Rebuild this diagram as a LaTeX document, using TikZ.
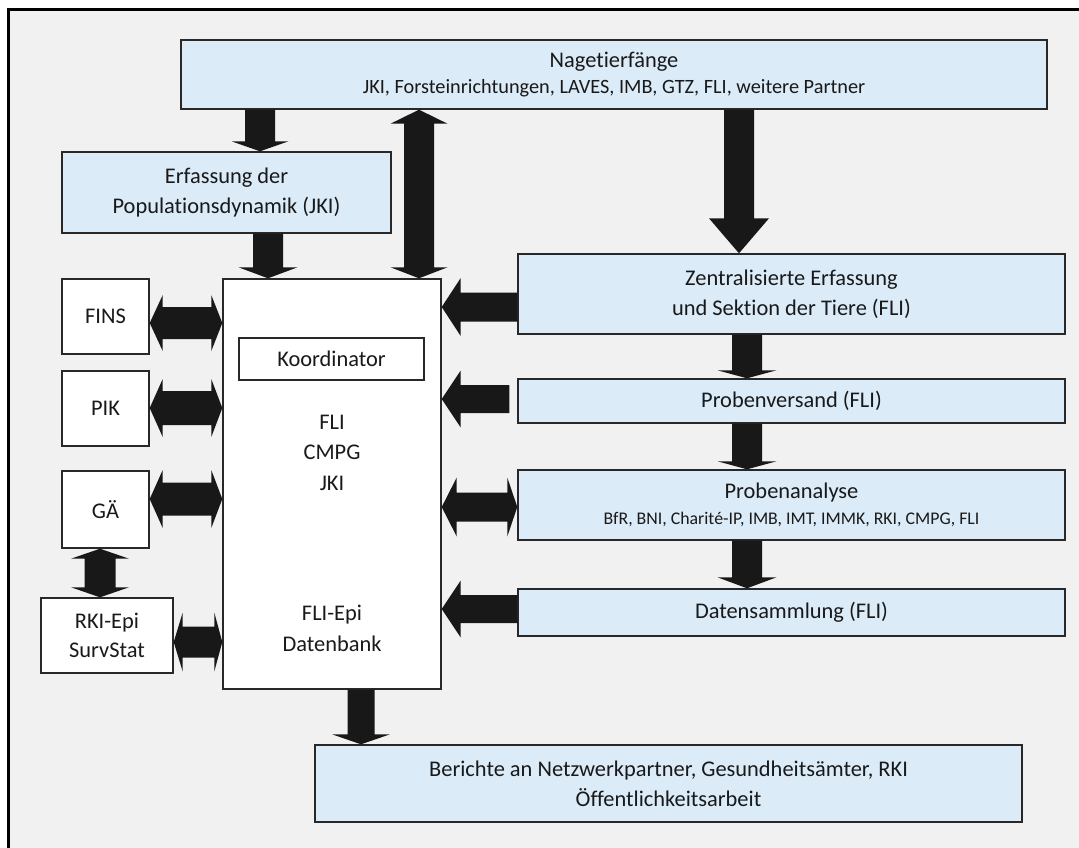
\documentclass[tikz,border=0pt]{standalone}
\usepackage{fontspec}
\setmainfont{Carlito}[Ligatures=NoCommon]
\usetikzlibrary{calc}
\definecolor{bgc}{RGB}{241,241,241}
\definecolor{boxc}{RGB}{219,235,248}
\definecolor{linec}{RGB}{40,40,40}
\definecolor{arrc}{RGB}{24,24,24}
\definecolor{txtc}{RGB}{25,25,25}
\newcommand\subfa{\fontsize{20.3}{24}\selectfont}
\newcommand\subfb{\fontsize{17.8}{24}\selectfont}
\begin{document}
\begin{tikzpicture}[x=1pt,y=-1pt,
  bluebox/.style={draw=linec, line width=1.4pt, fill=boxc, inner sep=0pt, align=center, text=txtc, font=\fontsize{22.4}{30}\selectfont},
  whitebox/.style={bluebox, fill=white},
  plain/.style={inner sep=0pt, align=center, text=txtc, font=\fontsize{22.4}{30.5}\selectfont},
  fat/.style n args={3}{arrc, to path={
    ($(\tikztotarget)!#3!(\tikztostart)$) coordinate (h)
    ($(\tikztostart)!#1!90:(\tikztotarget)$) -- ($(h)!#1!90:(\tikztotarget)$) -- ($(h)!#2!90:(\tikztotarget)$)
    -- (\tikztotarget) -- ($(h)!#2!-90:(\tikztotarget)$) -- ($(h)!#1!-90:(\tikztotarget)$)
    -- ($(\tikztostart)!#1!-90:(\tikztotarget)$) -- cycle}},
  fatdbl/.style n args={4}{arrc, to path={
    ($(\tikztostart)!#3!(\tikztotarget)$) coordinate (h1)
    ($(\tikztotarget)!#4!(\tikztostart)$) coordinate (h2)
    (\tikztostart) -- ($(h1)!#2!90:(\tikztotarget)$) -- ($(h1)!#1!90:(\tikztotarget)$)
    -- ($(h2)!#1!90:(\tikztotarget)$) -- ($(h2)!#2!90:(\tikztotarget)$) -- (\tikztotarget)
    -- ($(h2)!#2!-90:(\tikztotarget)$) -- ($(h2)!#1!-90:(\tikztotarget)$)
    -- ($(h1)!#1!-90:(\tikztotarget)$) -- ($(h1)!#2!-90:(\tikztotarget)$) -- cycle}}
]
\useasboundingbox (0,0) rectangle (1079,847);
\fill[white] (0,0) rectangle (1079,847);
\fill[bgc] (8.3,9.6) rectangle (1100,870);
\draw[black, line width=2.8pt] (8.3,9.6) rectangle (1100,870);

% boxes
\node[bluebox, minimum width=866pt, minimum height=69pt] (nag) at (614,74.5)
  {Nagetierfänge\\[-4pt]{\subfa JKI, Forsteinrichtungen, LAVES, IMB, GTZ, FLI, weitere Partner}};
\node[bluebox, minimum width=329pt, minimum height=81pt] (erf) at (226.5,192.5)
  {Erfassung der\\Populationsdynamik (JKI)};
\node[whitebox, minimum width=218pt, minimum height=410pt] (main) at (332,484) {};
\node[whitebox, minimum width=185pt, minimum height=42pt] (koord) at (331.5,359) {Koordinator};
\node[plain] (mtxt) at (332,452.5) {FLI\\CMPG\\JKI};
\node[plain] (mdb) at (332,628.5) {FLI-Epi\\Datenbank};
\node[whitebox, minimum width=87pt, minimum height=75pt] (fins) at (105.5,316.5) {FINS};
\node[whitebox, minimum width=87pt, minimum height=75pt] (pik) at (105.5,408.5) {PIK};
\node[whitebox, minimum width=87pt, minimum height=77pt] (ga) at (105.5,509.5) {GÄ};
\node[whitebox, minimum width=132pt, minimum height=75pt, font=\fontsize{22.4}{29}\selectfont] (rki) at (107,635.5) {RKI-Epi\\SurvStat};
\node[bluebox, minimum width=547pt, minimum height=80pt] (zen) at (791.5,294)
  {Zentralisierte Erfassung\\und Sektion der Tiere (FLI)};
\node[bluebox, minimum width=547pt, minimum height=44pt] (pv) at (791.5,401) {Probenversand (FLI)};
\node[bluebox, minimum width=547pt, minimum height=70pt] (pa) at (791.5,505)
  {Probenanalyse\\[-4pt]{\subfb BfR, BNI, Charité-IP, IMB, IMT, IMMK, RKI, CMPG, FLI}};
\node[bluebox, minimum width=547pt, minimum height=47pt] (ds) at (791.5,612.5) {Datensammlung (FLI)};
\node[bluebox, minimum width=707pt, minimum height=77pt] (ber) at (668.5,783.5)
  {Berichte an Netzwerkpartner, Gesundheitsämter, RKI\\Öffentlichkeitsarbeit};

% arrows
\fill[fat={15pt}{28.5pt}{10pt}] (nag.south -| 260,0) to (erf.north -| 260,0);
\fill[fat={15pt}{29.5pt}{11pt}] (erf.south -| 268,0) to (main.north -| 268,0);
\fill[fatdbl={15pt}{28.5pt}{11pt}{14pt}] (main.north -| 419,0) to (nag.south -| 419,0);
\fill[fat={15pt}{30pt}{35pt}] (nag.south -| 739,0) to (zen.north -| 739,0);
\fill[fat={14.5pt}{29pt}{19pt}] (zen.west |- 0,307) to (main.east |- 0,307);
\coordinate (pvout) at ([xshift=-8pt]pv.west |- 0,399);
\fill[fat={14pt}{28.5pt}{19pt}] (pvout) to (main.east |- pvout);
\fill[fatdbl={14.5pt}{29.5pt}{15pt}{10pt}] (main.east |- 0,507) to (pa.west |- 0,507);
\fill[fat={14pt}{28.5pt}{19pt}] (ds.west |- 0,609) to (main.east |- 0,609);
\fill[fat={15pt}{29.5pt}{8pt}] (zen.south -| 747,0) to (pv.north -| 747,0);
\fill[fat={15pt}{29.5pt}{8pt}] (pv.south -| 747,0) to (pa.north -| 747,0);
\fill[fat={15pt}{29.5pt}{11pt}] (pa.south -| 747,0) to (ds.north -| 747,0);
\fill[fatdbl={16pt}{28pt}{13pt}{11pt}] (fins.east |- 0,323) to (main.west |- 0,323);
\fill[fatdbl={17pt}{29pt}{13pt}{11pt}] (pik.east |- 0,408) to (main.west |- 0,408);
\fill[fatdbl={16.5pt}{29pt}{13pt}{11pt}] (ga.east |- 0,499) to (main.west |- 0,499);
\fill[fatdbl={15.5pt}{29pt}{10pt}{10pt}] (ga.south -| 100,0) to (rki.north -| 100,0);
\fill[fatdbl={15.5pt}{29.5pt}{9pt}{8pt}] (rki.east |- 0,642) to (main.west |- 0,642);
\fill[fat={13.5pt}{29pt}{10pt}] (main.south -| 361,0) to (ber.north -| 361,0);
\end{tikzpicture}
\end{document}
